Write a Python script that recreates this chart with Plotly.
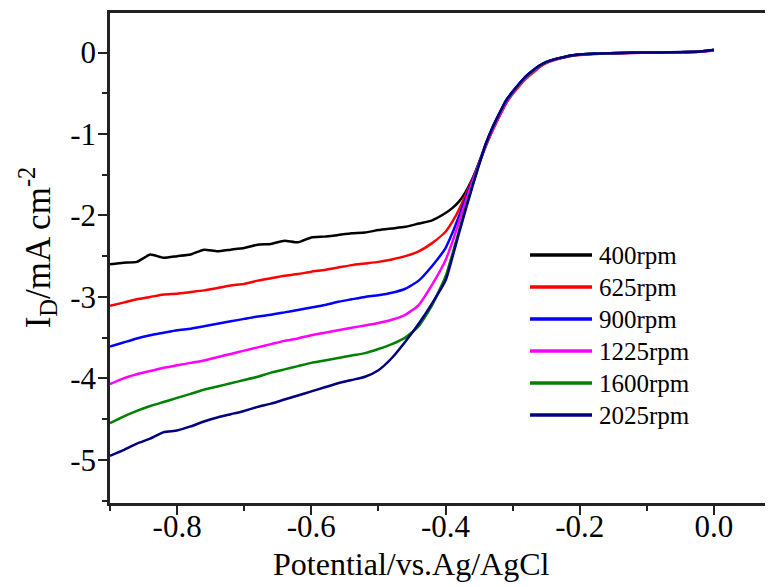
import plotly.graph_objects as go

# Potential (V vs. Ag/AgCl)
potential = [-0.90, -0.88, -0.86, -0.84, -0.82, -0.80, -0.78, -0.76, -0.74, -0.72,
             -0.70, -0.68, -0.66, -0.64, -0.62, -0.60, -0.58, -0.56, -0.54, -0.52,
             -0.50, -0.48, -0.46, -0.44, -0.42, -0.40,
             -0.39, -0.38, -0.37, -0.36, -0.35,
             -0.34, -0.33, -0.32, -0.31, -0.30, -0.29, -0.28, -0.27, -0.26, -0.25,
             -0.24, -0.23, -0.22, -0.21, -0.20,
             -0.17, -0.14, -0.11, -0.08, -0.05, -0.02, 0.0]

labels = ["400rpm", "625rpm", "900rpm", "1225rpm", "1600rpm", "2025rpm"]
colors = ["#000000", "#ff0000", "#0000ff", "#ff00ff", "#008000", "#000080"]

i_400 = [-2.60, -2.58, -2.57, -2.48, -2.52, -2.50, -2.48, -2.42, -2.44, -2.42,
         -2.40, -2.36, -2.35, -2.31, -2.33, -2.27, -2.26, -2.24, -2.22, -2.21,
         -2.18, -2.16, -2.14, -2.10, -2.06, -1.97,
         -1.91, -1.83, -1.71, -1.55, -1.36,
         -1.14, -0.94, -0.77, -0.61, -0.49, -0.39, -0.30, -0.23, -0.17, -0.12,
         -0.09, -0.07, -0.05, -0.035, -0.025,
         -0.012, -0.006, -0.003, 0.0, 0.004, 0.012, 0.03]

i_625 = [-3.11, -3.07, -3.03, -3.00, -2.97, -2.96, -2.94, -2.92, -2.89, -2.86,
         -2.84, -2.80, -2.77, -2.74, -2.72, -2.69, -2.67, -2.64, -2.61, -2.59,
         -2.57, -2.54, -2.50, -2.44, -2.34, -2.20,
         -2.08, -1.93, -1.75, -1.56, -1.35,
         -1.15, -0.96, -0.79, -0.63, -0.51, -0.41, -0.32, -0.25, -0.18, -0.13,
         -0.10, -0.075, -0.055, -0.04, -0.03,
         -0.015, -0.008, -0.004, -0.002, 0.002, 0.01, 0.025]

i_900 = [-3.61, -3.56, -3.51, -3.47, -3.44, -3.41, -3.39, -3.36, -3.33, -3.30,
         -3.27, -3.24, -3.22, -3.19, -3.16, -3.13, -3.10, -3.06, -3.03, -3.00,
         -2.98, -2.95, -2.90, -2.80, -2.62, -2.40,
         -2.22, -2.01, -1.79, -1.57, -1.35,
         -1.12, -0.92, -0.75, -0.59, -0.48, -0.38, -0.29, -0.22, -0.16, -0.12,
         -0.09, -0.07, -0.05, -0.035, -0.025,
         -0.012, -0.006, -0.002, 0.0, 0.004, 0.012, 0.03]

i_1225 = [-4.07, -4.00, -3.95, -3.91, -3.87, -3.84, -3.81, -3.78, -3.74, -3.70,
          -3.66, -3.62, -3.58, -3.54, -3.51, -3.47, -3.44, -3.41, -3.38, -3.35,
          -3.32, -3.28, -3.22, -3.10, -2.85, -2.55,
          -2.33, -2.08, -1.83, -1.59, -1.36,
          -1.14, -0.95, -0.78, -0.62, -0.50, -0.40, -0.31, -0.24, -0.17, -0.125,
          -0.095, -0.072, -0.052, -0.038, -0.028,
          -0.014, -0.007, -0.003, -0.001, 0.003, 0.011, 0.028]

i_1600 = [-4.55, -4.47, -4.40, -4.34, -4.29, -4.24, -4.19, -4.14, -4.10, -4.06,
          -4.02, -3.98, -3.93, -3.89, -3.85, -3.81, -3.78, -3.75, -3.72, -3.69,
          -3.64, -3.58, -3.50, -3.36, -3.10, -2.75,
          -2.48, -2.19, -1.90, -1.63, -1.37,
          -1.13, -0.93, -0.76, -0.60, -0.49, -0.39, -0.30, -0.23, -0.165, -0.12,
          -0.09, -0.07, -0.05, -0.036, -0.026,
          -0.013, -0.006, -0.002, 0.0, 0.004, 0.012, 0.03]

i_2025 = [-4.95, -4.88, -4.80, -4.74, -4.66, -4.64, -4.59, -4.53, -4.48, -4.44,
          -4.40, -4.35, -4.31, -4.26, -4.21, -4.16, -4.11, -4.06, -4.02, -3.98,
          -3.90, -3.75, -3.55, -3.33, -3.08, -2.80,
          -2.52, -2.22, -1.93, -1.65, -1.38,
          -1.12, -0.92, -0.75, -0.59, -0.48, -0.38, -0.29, -0.22, -0.16, -0.115,
          -0.088, -0.068, -0.048, -0.034, -0.024,
          -0.011, -0.005, -0.001, 0.001, 0.005, 0.013, 0.033]

series = [i_400, i_625, i_900, i_1225, i_1600, i_2025]

x_tickvals = [-0.8, -0.6, -0.4, -0.2, 0.0]
x_ticktext = ["-0.8", "-0.6", "-0.4", "-0.2", "0.0"]
y_tickvals = [0, -1, -2, -3, -4, -5]
y_ticktext = ["0", "-1", "-2", "-3", "-4", "-5"]
x_title = "Potential/vs.Ag/AgCl"
y_title = "I<sub>D</sub>/mA cm<sup>-2</sup>"

FONT = "Liberation Serif"

fig = go.Figure()
for name, col, ys in zip(labels, colors, series):
    fig.add_trace(go.Scatter(x=potential, y=ys, mode="lines", name=name,
                             line=dict(color=col, width=2.5, shape="spline", smoothing=0.5),
                             showlegend=False))

# custom legend (long line samples like the original)
leg_x0, leg_x1, leg_tx = 0.6335, 0.7270, 0.735
leg_y_top, leg_dy = 0.506, 0.0653
for k, (name, col) in enumerate(zip(labels, colors)):
    yy = leg_y_top - k * leg_dy
    fig.add_shape(type="line", xref="paper", yref="paper", x0=leg_x0, x1=leg_x1,
                  y0=yy, y1=yy, line=dict(color=col, width=3.5))
    fig.add_annotation(xref="paper", yref="paper", x=leg_tx, y=yy, text=name,
                       showarrow=False, xanchor="left", yanchor="middle",
                       font=dict(family=FONT, size=25, color="black"))

# axis titles
fig.add_annotation(xref="paper", yref="paper", x=0.454, y=-0.124, text=x_title,
                   showarrow=False, xanchor="center", yanchor="middle",
                   font=dict(family=FONT, size=32, color="black"))
fig.add_annotation(xref="paper", yref="paper", x=-0.110, y=0.522, text=y_title,
                   showarrow=False, xanchor="center", yanchor="middle", textangle=-90,
                   font=dict(family=FONT, size=35, color="black"))

axis_common = dict(showline=True, linecolor="#222222", linewidth=2.5, ticks="outside",
                   tickcolor="#222222", tickwidth=2, ticklen=9, showgrid=False,
                   zeroline=False, automargin=False,
                   tickfont=dict(family=FONT, size=31, color="black"))

fig.update_xaxes(range=[-0.9, 0.088], tickmode="array", tickvals=x_tickvals,
                 ticktext=x_ticktext, mirror=True, ticklabelstandoff=-15,
                 minor=dict(ticks="outside", dtick=0.1, tick0=0, ticklen=5,
                            tickwidth=2, tickcolor="#222222"),
                 **axis_common)
fig.update_yaxes(range=[-5.53, 0.485], tickmode="array", tickvals=y_tickvals,
                 ticktext=y_ticktext, mirror=False, ticklabelstandoff=-4,
                 minor=dict(ticks="outside", dtick=0.5, tick0=0, ticklen=5,
                            tickwidth=2, tickcolor="#222222"),
                 **axis_common)

# page body has an 8px margin, so the figure is sized to end at the window edge
fig.update_layout(width=765, height=579, margin=dict(l=102, r=0, t=5, b=84),
                  paper_bgcolor="white", plot_bgcolor="white", showlegend=False)

fig.write_html("out.html")
